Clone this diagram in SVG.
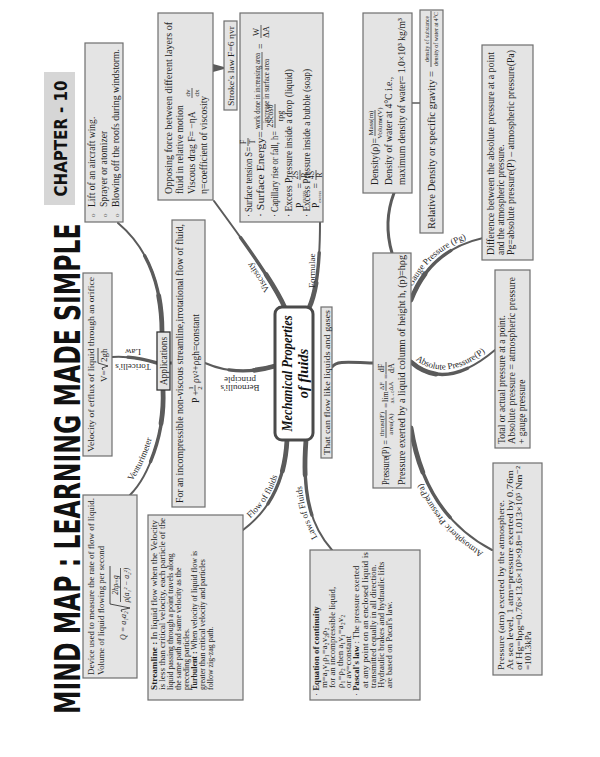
<svg xmlns="http://www.w3.org/2000/svg" width="600" height="757" viewBox="0 0 600 757">
<style>
.bx{fill:#e4e4e4;stroke:#6e6e6e;stroke-width:1.2}
.t{font-family:"Liberation Serif","DejaVu Serif",serif;fill:#1e1e1e}
.m{text-anchor:middle}
.fb{stroke:#222;stroke-width:0.7}
.lb{font-family:"Liberation Serif","DejaVu Serif",serif;font-size:9px;fill:#2a2a2a}
.k1{fill:none;stroke:#5b5b5b;stroke-width:2;stroke-linecap:round}
.k2{fill:none;stroke:#5b5b5b;stroke-width:3.4;stroke-linecap:round;stroke-dasharray:65 200}
.k3{fill:none;stroke:#5b5b5b;stroke-width:4.8;stroke-linecap:round;stroke-dasharray:30 200}
.ku{fill:none;stroke:#5b5b5b;stroke-width:3;stroke-linecap:round}
</style>
<defs>
<path id="pv" pathLength="100" d="M285 308 C275 285 250 250 214 201"/>
<path id="pf" pathLength="100" d="M309 308 Q320 285 320 222"/>
<path id="pd" pathLength="100" d="M392 253 Q383 222 394 193"/>
<path id="pg" pathLength="100" d="M411 300 Q430 250 483 238"/>
<path id="pa" pathLength="100" d="M411 362 Q445 392 495 350"/>
<path id="pat" pathLength="100" d="M411 428 Q425 515 492 550"/>
<path id="pb" pathLength="100" d="M275 366 C255 372 230 374 205 363"/>
<path id="pup" pathLength="100" d="M162 332 C162 290 150 250 118 223"/>
<path id="plo" pathLength="100" d="M163 390 C165 430 150 475 130 495"/>
<path id="pt" pathLength="100" d="M157 363 C140 358 125 356 112 357"/>
<path id="pfl" pathLength="100" d="M287 440 C285 480 270 510 243 530"/>
<path id="plw" pathLength="100" d="M306 440 C303 480 305 520 332 550"/>
<path id="tv" d="M281 311 C271 288 246 253 210 204"/>
<path id="tg" d="M408 297 Q427 247 481 235"/>
<path id="tab" d="M413 358 Q447 386 493 346"/>
<path id="tat" d="M488 555 Q421 519 407 430"/>
<path id="tfl" d="M241 526 C267 507 282 480 283 440"/>
<path id="tlw" d="M328 552 C301 521 299 481 302 440"/>
<path id="tven" d="M124 490 C144 472 158 430 157 400"/>
</defs>
<rect width="600" height="757" fill="#fff"/>

<g id="title">
<text transform="translate(80,714) rotate(-90) scale(0.673,1)" font-family="'DejaVu Sans','Liberation Sans',sans-serif" font-weight="bold" font-size="35" fill="#111">MIND MAP : LEARNING MADE SIMPLE</text>
<rect x="44" y="72" width="31" height="133" fill="#d6d6d6"/>
<text transform="translate(67,138.5) rotate(-90) scale(0.835,1)" text-anchor="middle" font-family="'DejaVu Sans','Liberation Sans',sans-serif" font-weight="bold" font-size="18" fill="#111">CHAPTER - 10</text>
</g>

<g id="connectors">
<use href="#pv" class="k1"/><use href="#pv" class="k2"/><use href="#pv" class="k3"/>
<use href="#pf" class="k1"/><use href="#pf" class="k2"/><use href="#pf" class="k3"/>
<use href="#pd" class="ku"/>
<use href="#pg" class="k1"/><use href="#pg" class="k2"/><use href="#pg" class="k3"/>
<use href="#pa" class="k1"/><use href="#pa" class="k2"/><use href="#pa" class="k3"/>
<use href="#pat" class="k1"/><use href="#pat" class="k2"/><use href="#pat" class="k3"/>
<use href="#pb" class="k1"/><use href="#pb" class="k2"/><use href="#pb" class="k3"/>
<use href="#pup" class="k1"/><use href="#pup" class="k2"/><use href="#pup" class="k3"/>
<use href="#plo" class="k1"/><use href="#plo" class="k2"/><use href="#plo" class="k3"/>
<use href="#pt" class="k1"/><use href="#pt" class="k2"/>
<use href="#pfl" class="k1"/><use href="#pfl" class="k2"/><use href="#pfl" class="k3"/>
<use href="#plw" class="k1"/><use href="#plw" class="k2"/><use href="#plw" class="k3"/>
<path class="ku" d="M332 367 C336 361 345 362 373 363"/>
<path class="ku" d="M169 363 L173 363"/>
<polygon points="213,64 224,67 224,69 213,72" fill="#5b5b5b"/>
<line x1="412" y1="103" x2="420" y2="103" stroke="#5b5b5b" stroke-width="1.5"/>
<text class="lb"><textPath href="#tv" startOffset="24">Viscosity</textPath></text>
<text class="lb" transform="translate(314.5,288) rotate(-90)">Formulae</text>
<text class="lb"><textPath href="#tg" startOffset="11">Gauge Pressure (Pg)</textPath></text>
<text class="lb"><textPath href="#tab" startOffset="3">Absolute Pressure(P)</textPath></text>
<text class="lb"><textPath href="#tat" startOffset="5">Atmospheric Pressure(Pa)</textPath></text>
<text class="lb"><textPath href="#tfl" startOffset="12">Flow of fluids</textPath></text>
<text class="lb"><textPath href="#tlw" startOffset="18">Laws of Fluids</textPath></text>
<text class="lb"><textPath href="#tven" startOffset="12">Venturimeter</textPath></text>
<text class="lb m" transform="translate(240,385) rotate(180)">Bernoulli's</text>
<text class="lb m" transform="translate(240,377) rotate(180)">principle</text>
<text class="lb m" transform="translate(133,349) rotate(180)">Law</text>
<text class="lb m" transform="translate(133,364) rotate(180)">Toricelli's</text>
</g>

<g id="n-uses" class="t" font-size="9.6" transform="translate(85,222) rotate(-90)">
<rect class="bx" width="179" height="38"/>
<text x="5" y="10" font-size="7" fill="#555">o</text>
<text x="5" y="22" font-size="7" fill="#555">o</text>
<text x="5" y="34" font-size="7" fill="#555">o</text>
<text x="15" y="10">Lift of an aircraft wing.</text>
<text x="15" y="22">Sprayer or atomizer</text>
<text x="15" y="34" textLength="158" lengthAdjust="spacingAndGlyphs">Blowing off the roofs during windstorm.</text>
</g>

<g id="n-viscosity" class="t" font-size="9.6" transform="translate(158,200) rotate(-90)">
<rect class="bx" width="187" height="55"/>
<text x="6" y="14" textLength="172" lengthAdjust="spacingAndGlyphs">Opposing force between different layers of</text>
<text x="6" y="25">fluid in relative motion</text>
<text x="6" y="37">Viscous drag F= −ηA</text>
<text class="m" x="107" y="32" font-size="7">dv</text>
<line class="fb" x1="102" y1="34" x2="112" y2="34"/>
<text class="m" x="107" y="41" font-size="7">dx</text>
<text x="6" y="49">η=coefficient of viscosity</text>
</g>

<g id="n-stroke" class="t" font-size="9" transform="translate(224,110) rotate(-90)">
<rect class="bx" width="89" height="13"/>
<text x="4" y="10" textLength="80" lengthAdjust="spacingAndGlyphs">Stroke's law F=6 ηvr</text>
</g>

<g id="n-formulae" class="t" font-size="9.5" transform="translate(240,222) rotate(-90)">
<rect class="bx" width="209" height="83"/>
<text x="5" y="12" textLength="70" lengthAdjust="spacingAndGlyphs">· Surface tension S=</text>
<text class="m" x="80" y="6" font-size="7.5">F</text>
<line class="fb" x1="76" y1="8" x2="84" y2="8"/>
<text class="m" x="80" y="15" font-size="7.5">T</text>
<text x="5" y="24" textLength="86" lengthAdjust="spacingAndGlyphs">· Surface Energy=</text>
<text class="m" x="131" y="20" font-size="8" textLength="76" lengthAdjust="spacingAndGlyphs">work done in increasing area</text>
<line class="fb" x1="92" y1="22" x2="170" y2="22"/>
<text class="m" x="131" y="29" font-size="8" textLength="64" lengthAdjust="spacingAndGlyphs">increase in surface area</text>
<text x="173" y="24">=</text>
<text class="m" x="190" y="19" font-size="8.5">W</text>
<line class="fb" x1="184" y1="21" x2="197" y2="21"/>
<text class="m" x="190" y="29" font-size="8.5">ΔA</text>
<text x="5" y="38" textLength="86" lengthAdjust="spacingAndGlyphs">· Capillary rise or fall, h=</text>
<text class="m" x="106" y="33" font-size="8">2Scosθ</text>
<line class="fb" x1="94" y1="35" x2="118" y2="35"/>
<text class="m" x="106" y="43" font-size="8">rρg</text>
<text x="5" y="52" textLength="148" lengthAdjust="spacingAndGlyphs">· Excess Pressure inside a drop (liquid)</text>
<text x="14" y="63">P<tspan font-size="4.5" dy="2">excess</tspan><tspan dy="-2"> =</tspan></text>
<text class="m" x="47" y="58" font-size="8">2S</text>
<line class="fb" x1="42" y1="60" x2="52" y2="60"/>
<text class="m" x="47" y="67" font-size="8">R</text>
<text x="5" y="70" textLength="148" lengthAdjust="spacingAndGlyphs">· Excess Pressure inside a bubble (soap)</text>
<text x="14" y="79">P<tspan font-size="4.5" dy="2">excess</tspan><tspan dy="-2"> =</tspan></text>
<text class="m" x="47" y="74" font-size="8">4S</text>
<line class="fb" x1="42" y1="76" x2="52" y2="76"/>
<text class="m" x="47" y="82" font-size="8">R</text>
</g>

<g id="n-density" class="t" font-size="9.7" transform="translate(363,193) rotate(-90)">
<rect class="bx" width="180" height="49"/>
<text x="8" y="15">Density(ρ)=</text>
<text class="m" x="70" y="10" font-size="7">Mass(m)</text>
<line class="fb" x1="57" y1="12" x2="83" y2="12"/>
<text class="m" x="70" y="19" font-size="7">Volume(V)</text>
<text x="8" y="29">Density of water at 4°C i.e.,</text>
<text x="8" y="42" textLength="167" lengthAdjust="spacingAndGlyphs">maximum density of water= 1.0×10³ kg/m³</text>
</g>

<g id="n-reldensity" class="t" font-size="9.5" transform="translate(420,233) rotate(-90)">
<rect class="bx" width="223" height="23"/>
<text x="4" y="15" textLength="158" lengthAdjust="spacingAndGlyphs">Relative Density or specific gravity =</text>
<text class="m" x="194" y="9" font-size="6.5" textLength="46" lengthAdjust="spacingAndGlyphs">density of substance</text>
<line class="fb" x1="166" y1="11" x2="222" y2="11"/>
<text class="m" x="194" y="18" font-size="6.5" textLength="54" lengthAdjust="spacingAndGlyphs">density of water at 4°C</text>
</g>

<g id="n-gauge" class="t" font-size="9.3" transform="translate(482,260) rotate(-90)">
<rect class="bx" width="215" height="51"/>
<text x="5" y="12" textLength="203" lengthAdjust="spacingAndGlyphs">Difference between the absolute pressure at a point</text>
<text x="5" y="22">and the atmospheric pressure.</text>
<text x="5" y="32" textLength="205" lengthAdjust="spacingAndGlyphs">Pg=absolute pressure(P) – atmospheric pressure(Pa)</text>
</g>

<g id="n-absolute" class="t" font-size="9.5" transform="translate(495,448) rotate(-90)">
<rect class="bx" width="178" height="35"/>
<text x="4" y="10">Total or actual pressure at a point.</text>
<text x="4" y="20" textLength="167" lengthAdjust="spacingAndGlyphs">Absolute pressure = atmospheric pressure</text>
<text x="4" y="30">+ gauge pressure</text>
</g>

<g id="n-atmospheric" class="t" font-size="9" transform="translate(493,675) rotate(-90)">
<rect class="bx" width="212" height="49"/>
<text x="5" y="11" textLength="170" lengthAdjust="spacingAndGlyphs">Pressure (atm) exerted by the atmosphere.</text>
<text x="5" y="20" textLength="200" lengthAdjust="spacingAndGlyphs">At sea level, 1 atm=pressure exerted by 0.76m</text>
<text x="5" y="29" textLength="204" lengthAdjust="spacingAndGlyphs">of Hg=hρg=0.76×13.6×10³×9.8=1.013×10⁵ Nm⁻²</text>
<text x="5" y="38">=101.3kPa</text>
</g>

<g id="n-pressure" class="t" font-size="10" transform="translate(373,488) rotate(-90)">
<rect class="bx" width="235" height="38"/>
<text x="3" y="16" textLength="45" lengthAdjust="spacingAndGlyphs">Pressure(P) =</text>
<text class="m" x="64" y="11" font-size="7">thrust(F)</text>
<line class="fb" x1="50" y1="13" x2="78" y2="13"/>
<text class="m" x="64" y="20" font-size="7">area(A)</text>
<text x="80" y="16" font-size="9">=</text>
<text x="86" y="15" font-size="8">lim</text>
<text class="m" x="91" y="21" font-size="4.5">ΔA→0</text>
<text class="m" x="102" y="11" font-size="6.5">ΔF</text>
<line class="fb" x1="97" y1="13" x2="107" y2="13"/>
<text class="m" x="102" y="20" font-size="6.5">ΔA</text>
<text x="109" y="16" font-size="9">=</text>
<text class="m" x="120" y="11" font-size="8">dF</text>
<line class="fb" x1="114" y1="13" x2="126" y2="13"/>
<text class="m" x="120" y="21" font-size="8">dA</text>
<text x="3" y="32" textLength="230" lengthAdjust="spacingAndGlyphs">Pressure exerted by a liquid column of height h, (p)=hρg</text>
</g>

<g id="n-flowlike" class="t" font-size="8.5" transform="translate(321,458) rotate(-90)">
<rect class="bx" width="151" height="11"/>
<text x="3" y="8.5" textLength="145" lengthAdjust="spacingAndGlyphs">That can flow like liquids and gases</text>
</g>

<g id="n-center" transform="translate(275,440) rotate(-90)">
<rect width="133" height="38" rx="7" fill="#fff" stroke="#4a4a4a" stroke-width="3"/>
<text x="66.5" y="17" text-anchor="middle" font-family="'Liberation Serif','DejaVu Serif',serif" font-style="italic" font-weight="bold" font-size="14.5" textLength="116" lengthAdjust="spacingAndGlyphs" fill="#111">Mechanical Properties</text>
<text x="66.5" y="33" text-anchor="middle" font-family="'Liberation Serif','DejaVu Serif',serif" font-style="italic" font-weight="bold" font-size="14.5" fill="#111">of fluids</text>
</g>

<g id="n-bernoulli" class="t" font-size="9.5" transform="translate(172,507) rotate(-90)">
<rect class="bx" width="287" height="33"/>
<text x="4" y="11" textLength="279" lengthAdjust="spacingAndGlyphs">For an incompressible non-viscous streamline,irrotational flow of fluid,</text>
<text x="104" y="27">P +</text>
<text class="m" x="119" y="21" font-size="7">1</text>
<line class="fb" x1="116" y1="23" x2="122" y2="23"/>
<text class="m" x="119" y="30" font-size="7">2</text>
<text x="124" y="27">ρv²+ρgh=constant</text>
</g>

<g id="n-applications" class="t" font-size="9.5" transform="translate(157,390) rotate(-90)">
<rect width="58" height="13" fill="#e4e4e4" stroke="#333" stroke-width="1.3"/>
<text class="m" x="29" y="10">Applications</text>
</g>

<g id="n-torricelli" class="t" font-size="9" transform="translate(83,456) rotate(-90)">
<rect class="bx" width="183" height="29"/>
<text x="4" y="11" textLength="175" lengthAdjust="spacingAndGlyphs">Velocity of efflux of liquid through an orifice</text>
<text x="74" y="24">V=</text>
<path d="M86 20 L88 19 L90 25 L93 15 L108 15" fill="none" stroke="#222" stroke-width="0.8"/>
<text x="94" y="24">2gh</text>
</g>

<g id="n-venturi" class="t" font-size="8.8" transform="translate(83,678) rotate(-90)">
<rect class="bx" width="183" height="54"/>
<text x="3" y="11" textLength="177" lengthAdjust="spacingAndGlyphs">Device used to measure the rate of flow of liquid.</text>
<text x="3" y="21">Volume of liquid flowing per second</text>
<text x="38" y="43" font-size="8" font-style="italic">Q = a₁a₂</text>
<path d="M66 39 L68 38 L70 47 L74 27 L112 27" fill="none" stroke="#222" stroke-width="0.8"/>
<text class="m" x="93" y="35" font-size="7.5" font-style="italic">2hρₘg</text>
<line class="fb" x1="76" y1="37.5" x2="110" y2="37.5"/>
<text class="m" x="93" y="46" font-size="7.5" font-style="italic">ρ(a₁² − a₂²)</text>
</g>

<g id="n-streamline" class="t" font-size="7.9" transform="translate(148,700) rotate(-90)">
<rect class="bx" width="185" height="95"/>
<text x="10" y="9" textLength="170" lengthAdjust="spacingAndGlyphs"><tspan font-weight="bold">Streamline :</tspan> In liquid flow when the Velocity</text>
<text x="10" y="17" textLength="172" lengthAdjust="spacingAndGlyphs">is less than critical velocity, each particle of the</text>
<text x="10" y="25">liquid passing through a point travels along</text>
<text x="10" y="33">the same path and same velocity as the</text>
<text x="10" y="41">preceding particles.</text>
<text x="10" y="49"><tspan font-weight="bold">Turbulent :</tspan> When velocity of liquid flow is</text>
<text x="10" y="57">greater than critical velocity and particles</text>
<text x="10" y="65">follow zig-zag path.</text>
</g>

<g id="n-laws" class="t" font-size="8.8" transform="translate(310,700) rotate(-90)">
<rect class="bx" width="150" height="110"/>
<text x="4" y="9">· <tspan font-weight="bold">Equation of continuity</tspan></text>
<text x="12" y="17">m=a₁v₁ρ₁=a₂v₂ρ₂</text>
<text x="12" y="25">for an incompressible  liquid,</text>
<text x="12" y="33">ρ₁=ρ₂ then a₁v₁=a₂v₂</text>
<text x="12" y="41">or av=constant</text>
<text x="4" y="49">· <tspan font-weight="bold">Pascal's law</tspan> : The pressure exerted</text>
<text x="12" y="58" textLength="136" lengthAdjust="spacingAndGlyphs">at any point on an enclosed liquid is</text>
<text x="12" y="66">transmitted equally in all direction.</text>
<text x="12" y="74">Hydraulic brakes and hydraulic lifts</text>
<text x="12" y="82">are based on Pacal's law.</text>
</g>
</svg>
